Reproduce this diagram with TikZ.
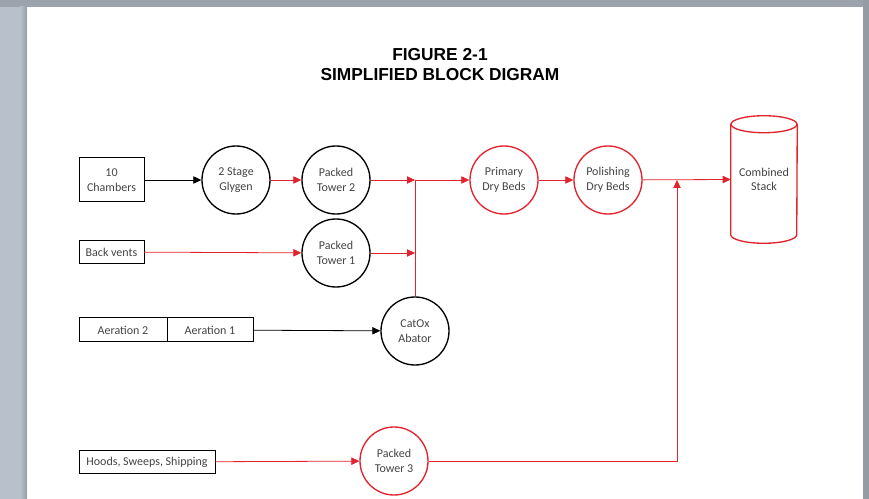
\documentclass[tikz,border=0pt]{standalone}
\usepackage{fontspec}
\setmainfont{Carlito}
\newfontfamily\titlefont{Liberation Sans}
\usepackage{xcolor}
\usetikzlibrary{arrows.meta,positioning,calc}

\definecolor{flowred}{RGB}{226,34,44}
\definecolor{deskgray}{RGB}{184,193,203}
\definecolor{edgegray}{RGB}{150,156,164}
\definecolor{labelgray}{RGB}{68,68,68}

\begin{document}
\begin{tikzpicture}[x=0.75pt, y=-0.75pt, >={Triangle[length=6pt,width=5.5pt]},
    every node/.style={font=\fontsize{9}{10.9}\selectfont, text=labelgray},
    srcbox/.style={draw=black, line width=0.75pt, fill=white, minimum width=48.75pt,
        minimum height=17.25pt, inner sep=0pt, outer sep=0pt, align=center},
    unit/.style={circle, draw=black, line width=1pt, fill=white, minimum size=51pt,
        inner sep=0pt, align=center},
    redunit/.style={unit, draw=flowred},
    feed/.style={->, line width=0.6pt},
    redfeed/.style={feed, draw=flowred}]

% page on the desk
\fill[deskgray] (0,0) rectangle (869,499);
\fill[edgegray!80!deskgray] (0,0) rectangle (869,7);
\fill[left color=deskgray, right color=edgegray] (20,7) rectangle (27,499);
\fill[edgegray] (863,0) rectangle (869,499);
\fill[white] (27,7) rectangle (863,499);

\node[font=\titlefont\bfseries\fontsize{13}{15}\selectfont, text=black, align=center] (title) at (440,65)
    {FIGURE 2-1\\SIMPLIFIED BLOCK DIGRAM};

% sources
\node[srcbox, minimum height=33pt] (chambers) at (111.5,180) {10\\Chambers};
\node[srcbox] (backvents) at (111.5,252) {Back vents};
\node[srcbox, minimum width=66pt, minimum height=18pt] (aer2) at (123,330) {Aeration 2};
\node[srcbox, minimum width=64.5pt, minimum height=18pt, anchor=west] (aer1) at (aer2.east) {Aeration 1};
\node[srcbox, minimum width=102pt] (hoods) at (147,462) {Hoods, Sweeps, Shipping};

% treatment units
\node[unit] (glygen) at (236,180) {2 Stage\\Glygen};
\node[unit] (tower2) at (336,180) {Packed\\Tower 2};
\node[unit] (tower1) at (336,253) {Packed\\Tower 1};
\node[unit] (catox) at (415,331) {CatOx\\Abator};
\node[redunit] (primary) at (504,180) {Primary\\Dry Beds};
\node[redunit] (polish) at (608,180) {Polishing\\Dry Beds};
\node[redunit] (tower3) at (394,461) {Packed\\Tower 3};

% stack
\node[minimum width=49.5pt, minimum height=95.25pt, inner sep=0pt, align=center] (stack) at (764,179.5) {Combined\\Stack};
\draw[flowred, line width=1pt]
    ($(stack.north west)+(0,8.5)$) -- ($(stack.south west)+(0,-8.5)$)
    arc[start angle=180, end angle=360, x radius=24.75pt, y radius=6.375pt]
    -- ($(stack.north east)+(0,8.5)$);
\draw[flowred, line width=1pt] ($(stack.north)+(0,8.5)$) ellipse [x radius=24.75pt, y radius=6.375pt];

\coordinate (merge) at (415,180);
\coordinate (tie) at (677,180);

\draw[feed] (chambers) -- (glygen);
\draw[redfeed] (glygen) -- (tower2);
\draw[redfeed] (backvents) -- (tower1);
\draw[redfeed] (tower2) -- (merge);
\draw[redfeed] (tower1) -- (tower1 -| merge);
\draw[flowred, line width=0.6pt] (merge) -- (catox.north);
\draw[redfeed] (merge) -- (primary);
\draw[redfeed] (primary) -- (polish);
\draw[redfeed] (polish) -- (stack.west);
\draw[feed] (aer1) -- (catox);
\draw[redfeed] (hoods) -- (tower3);
\draw[redfeed] (tower3) -| (tie);
\end{tikzpicture}
\end{document}
